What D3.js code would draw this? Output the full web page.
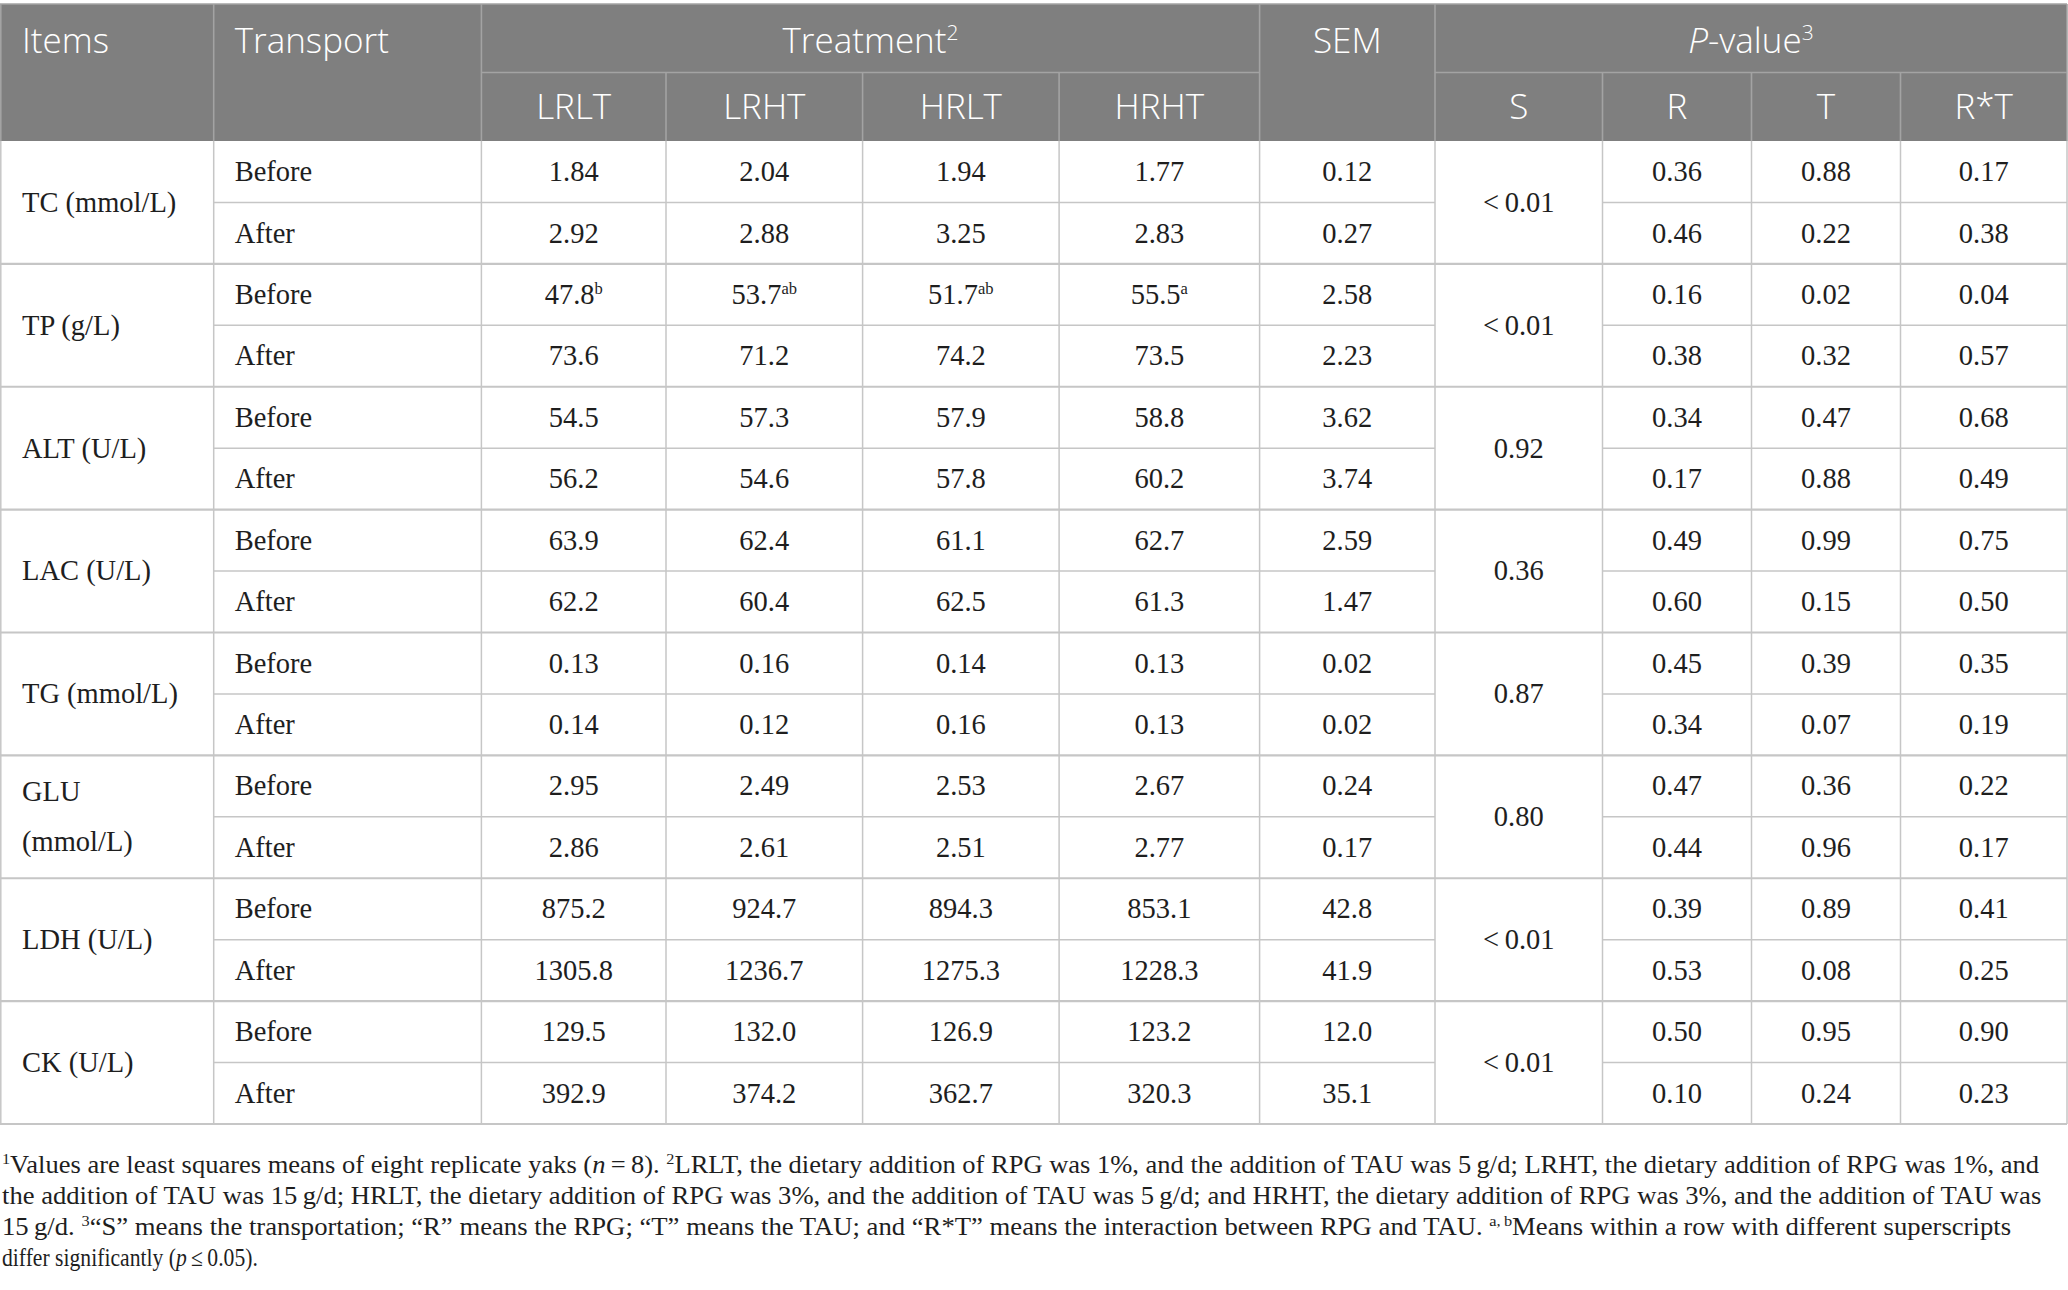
<!DOCTYPE html>
<html><head><meta charset="utf-8">
<script src="https://cdn.jsdelivr.net/npm/d3@7"></script>
<style>
html,body{margin:0;padding:0;background:#fff;}
svg{display:block;}
</style></head>
<body>
<svg id="chart" width="2068" height="1290"></svg>
<script>
// ---------- data ----------
const items = ["TC (mmol/L)", "TP (g/L)", "ALT (U/L)", "LAC (U/L)", "TG (mmol/L)", "GLU|(mmol/L)", "LDH (U/L)", "CK (U/L)"];
const transport = ["Before", "After"];
const treatments = ["LRLT", "LRHT", "HRLT", "HRHT"];
const pLabels = ["S", "R", "T", "R*T"];
const lrlt = ["1.84","2.92","47.8","73.6","54.5","56.2","63.9","62.2","0.13","0.14","2.95","2.86","875.2","1305.8","129.5","392.9"];
const lrht = ["2.04","2.88","53.7","71.2","57.3","54.6","62.4","60.4","0.16","0.12","2.49","2.61","924.7","1236.7","132.0","374.2"];
const hrlt = ["1.94","3.25","51.7","74.2","57.9","57.8","61.1","62.5","0.14","0.16","2.53","2.51","894.3","1275.3","126.9","362.7"];
const hrht = ["1.77","2.83","55.5","73.5","58.8","60.2","62.7","61.3","0.13","0.13","2.67","2.77","853.1","1228.3","123.2","320.3"];
const supLrlt = ["","","b","","","","","","","","","","","","",""];
const supLrht = ["","","ab","","","","","","","","","","","","",""];
const supHrlt = ["","","ab","","","","","","","","","","","","",""];
const supHrht = ["","","a","","","","","","","","","","","","",""];
const sem = ["0.12","0.27","2.58","2.23","3.62","3.74","2.59","1.47","0.02","0.02","0.24","0.17","42.8","41.9","12.0","35.1"];
const pS = ["<0.01","<0.01","0.92","0.36","0.87","0.80","<0.01","<0.01"];
const pR = ["0.36","0.46","0.16","0.38","0.34","0.17","0.49","0.60","0.45","0.34","0.47","0.44","0.39","0.53","0.50","0.10"];
const pT = ["0.88","0.22","0.02","0.32","0.47","0.88","0.99","0.15","0.39","0.07","0.36","0.96","0.89","0.08","0.95","0.24"];
const pRT = ["0.17","0.38","0.04","0.57","0.68","0.49","0.75","0.50","0.35","0.19","0.22","0.17","0.41","0.25","0.90","0.23"];

// ---------- layout ----------
const svg = d3.select("#chart");
const colEdges = [0, 213.7, 481.4, 666.0, 862.6, 1059.1, 1259.6, 1435.0, 1602.5, 1751.5, 1900.5, 2067];
const xs = d3.scaleLinear().domain(d3.range(colEdges.length)).range(colEdges);
const headTop = 4, headMid = 72.5, headBot = 141, tableBot = 1124;
const nRows = items.length * transport.length;
const ys = d3.scaleBand().domain(d3.range(nRows)).range([headBot, tableBot]);
const rh = ys.bandwidth();
const serif = "'Liberation Serif','Times New Roman',serif";
const sans = "'Open Sans','Noto Sans',sans-serif";
const bodyFs = 28.5, headFs = 35;
const bodyColor = "#1e1e1e";
const bodyLine = "#c6c6c6";
const headLine = "#a3a3a3";

// header background
svg.append("rect").attr("x", xs(0)).attr("y", headTop).attr("width", xs(11) - xs(0)).attr("height", headBot - headTop)
  .attr("fill", "#7f7f7f");

// header grid lines
const hg = svg.append("g").attr("stroke", headLine).attr("stroke-width", 1.6);
[1, 2, 6, 7, 11].forEach(i => hg.append("line").attr("x1", xs(i)).attr("x2", xs(i)).attr("y1", headTop).attr("y2", headBot));
[3, 4, 5, 8, 9, 10].forEach(i => hg.append("line").attr("x1", xs(i)).attr("x2", xs(i)).attr("y1", headMid).attr("y2", headBot));
hg.append("line").attr("x1", xs(2)).attr("x2", xs(6)).attr("y1", headMid).attr("y2", headMid);
hg.append("line").attr("x1", xs(7)).attr("x2", xs(11)).attr("y1", headMid).attr("y2", headMid);
hg.append("line").attr("x1", xs(0)).attr("x2", xs(11)).attr("y1", headTop).attr("y2", headTop);
hg.append("line").attr("x1", xs(0)+0.8).attr("x2", xs(0)+0.8).attr("y1", headTop).attr("y2", headBot);

// header texts
const ht = svg.append("g").attr("fill", "#ffffff").attr("font-family", sans).attr("font-size", headFs).attr("font-weight", 300);
const r1 = (headTop + headMid) / 2 + headFs * 0.36 + 2;
const r2 = (headMid + headBot) / 2 + headFs * 0.36;
ht.append("text").attr("x", xs(0) + 22).attr("y", r1).text("Items");
ht.append("text").attr("x", xs(1) + 21).attr("y", r1).text("Transport");
const tTreat = ht.append("text").attr("x", (xs(2) + xs(6)) / 2).attr("y", r1).attr("text-anchor", "middle");
tTreat.append("tspan").text("Treatment");
tTreat.append("tspan").attr("font-size", headFs * 0.6).attr("dy", -headFs * 0.38).text("2");
ht.append("text").attr("x", (xs(6) + xs(7)) / 2).attr("y", r1).attr("text-anchor", "middle").text("SEM");
const tP = ht.append("text").attr("x", (xs(7) + xs(11)) / 2).attr("y", r1).attr("text-anchor", "middle");
tP.append("tspan").attr("font-style", "italic").text("P");
tP.append("tspan").text("-value");
tP.append("tspan").attr("font-size", headFs * 0.6).attr("dy", -headFs * 0.38).text("3");
treatments.forEach((t, i) => ht.append("text").attr("x", (xs(2 + i) + xs(3 + i)) / 2).attr("y", r2).attr("text-anchor", "middle").text(t));
pLabels.forEach((t, i) => ht.append("text").attr("x", (xs(7 + i) + xs(8 + i)) / 2).attr("y", r2).attr("text-anchor", "middle").text(t));

// body grid lines
const bg = svg.append("g").attr("stroke", bodyLine);
d3.range(1, nRows).forEach(r => {
  const y = ys(r);
  if (r % 2 === 0) {
    bg.append("line").attr("x1", xs(0)).attr("x2", xs(11)).attr("y1", y).attr("y2", y).attr("stroke-width", 2.2);
  } else {
    bg.append("line").attr("x1", xs(1)).attr("x2", xs(7)).attr("y1", y).attr("y2", y).attr("stroke-width", 1.5);
    bg.append("line").attr("x1", xs(8)).attr("x2", xs(11)).attr("y1", y).attr("y2", y).attr("stroke-width", 1.5);
  }
});
bg.append("line").attr("x1", xs(0)).attr("x2", xs(11)).attr("y1", tableBot).attr("y2", tableBot).attr("stroke-width", 2.2);
d3.range(0, 12).forEach(i => {
  const x = i === 0 ? xs(0) + 0.8 : xs(i);
  bg.append("line").attr("x1", x).attr("x2", x).attr("y1", headBot).attr("y2", tableBot).attr("stroke-width", 1.5);
});

// body texts
const bt = svg.append("g").attr("fill", bodyColor).attr("font-family", serif).attr("font-size", bodyFs);
const base = r => ys(r) + rh / 2 + bodyFs * 0.33;
items.forEach((it, g) => {
  const parts = it.split("|");
  const cy = ys(g * 2) + rh + bodyFs * 0.33;
  parts.forEach((p, k) => {
    bt.append("text").attr("x", xs(0) + 22).attr("y", cy + (k - (parts.length - 1) / 2) * 50).text(p);
  });
  bt.append("text").attr("x", (xs(7) + xs(8)) / 2).attr("y", cy).attr("text-anchor", "middle")
    .text(pS[g].replace("<", "<\u2009"));
});
const valueCols = [
  [lrlt, supLrlt], [lrht, supLrht], [hrlt, supHrlt], [hrht, supHrht], [sem, null]
];
d3.range(nRows).forEach(r => {
  bt.append("text").attr("x", xs(1) + 21).attr("y", base(r)).text(transport[r % 2]);
  valueCols.forEach(([vals, sups], c) => {
    const t = bt.append("text").attr("x", (xs(2 + c) + xs(3 + c)) / 2).attr("y", base(r)).attr("text-anchor", "middle");
    t.append("tspan").text(vals[r]);
    if (sups && sups[r]) t.append("tspan").attr("font-size", bodyFs * 0.58).attr("dy", -bodyFs * 0.36).text(sups[r]);
  });
  [pR, pT, pRT].forEach((vals, c) => {
    bt.append("text").attr("x", (xs(8 + c) + xs(9 + c)) / 2).attr("y", base(r)).attr("text-anchor", "middle").text(vals[r]);
  });
});

// footnote (each line scaled horizontally to the reference width)
const fn = svg.append("g").attr("fill", bodyColor).attr("font-family", serif).attr("font-size", 24.5);
const fnLines = [
  { y: 1173, len: 2038, parts: [["1", "sup"], ["Values are least squares means of eight replicate yaks ("], ["n", "it"], ["\u2009=\u20098). "], ["2", "sup"], ["LRLT, the dietary addition of RPG was 1%, and the addition of TAU was 5\u2009g/d; LRHT, the dietary addition of RPG was 1%, and"]] },
  { y: 1204, len: 2040, parts: [["the addition of TAU was 15\u2009g/d; HRLT, the dietary addition of RPG was 3%, and the addition of TAU was 5\u2009g/d; and HRHT, the dietary addition of RPG was 3%, and the addition of TAU was"]] },
  { y: 1235, len: 2010, parts: [["15\u2009g/d. "], ["3", "sup"], ["\u201cS\u201d means the transportation; \u201cR\u201d means the RPG; \u201cT\u201d means the TAU; and \u201cR*T\u201d means the interaction between RPG and TAU. "], ["a,\u2009b", "sup"], ["Means within a row with different superscripts"]] },
  { y: 1266, len: 256, parts: [["differ significantly ("], ["p", "it"], ["\u2009\u2264\u20090.05)."]] }
];
fnLines.forEach(l => {
  const t = fn.append("text").attr("x", 0).attr("y", 0);
  l.parts.forEach(([s, kind]) => {
    const sp = t.append("tspan").text(s);
    if (kind === "sup") { sp.attr("font-size", 15).attr("dy", -9); }
    if (kind === "it") sp.attr("font-style", "italic");
  });
  // reset baseline after superscripts
  let shift = 0;
  t.selectAll("tspan").each(function () {
    const dy = +this.getAttribute("dy") || 0;
    if (shift !== 0 && dy === 0) { this.setAttribute("dy", -shift); shift = 0; }
    else if (dy !== 0) { shift += dy; }
  });
  const w = t.node().getComputedTextLength();
  t.attr("transform", `translate(2,${l.y}) scale(${l.len / w},1)`);
});
</script>
</body></html>
